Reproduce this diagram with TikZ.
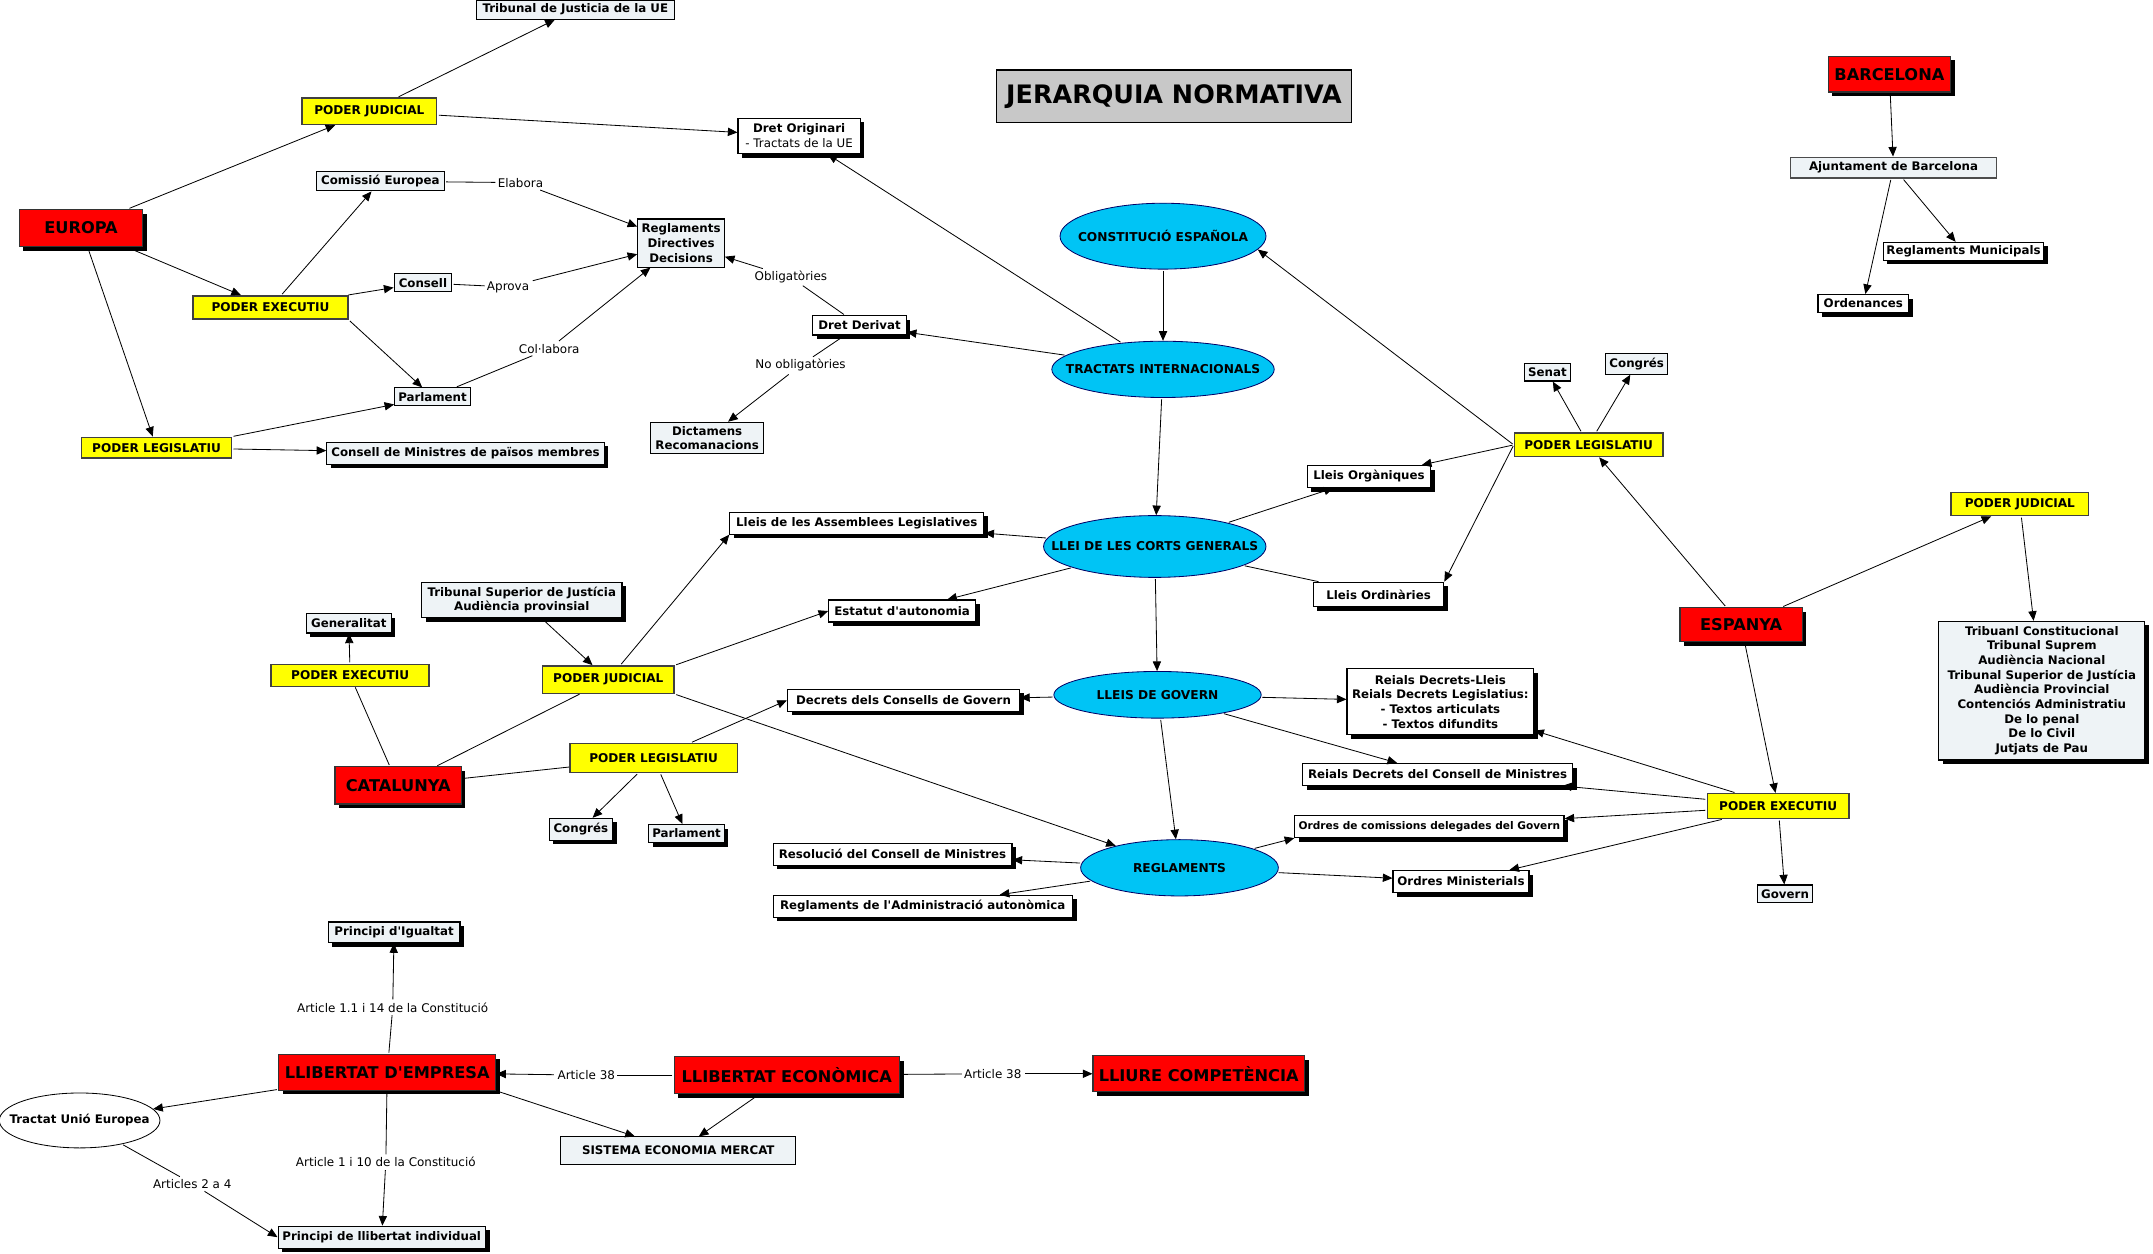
\documentclass[tikz,border=0pt]{standalone}
\usepackage{fontspec}
\setmainfont{DejaVu Sans}
\newfontfamily\plainfont{DejaVu Sans}
\newcommand{\apos}{{\plainfont '}}
\usetikzlibrary{shapes.geometric,arrows.meta,shadows}
\definecolor{lightc}{HTML}{EEF3F6}
\definecolor{cyanc}{HTML}{00C4F5}
\definecolor{yelc}{HTML}{FFFF00}
\definecolor{redc}{HTML}{FF0000}
\definecolor{grayc}{HTML}{C8C8C8}
\tikzset{
  sz/.style 2 args={minimum width=#1pt, minimum height=#2pt},
  base/.style={draw=black, line width=0.8pt, font=\bfseries\fontsize{8.6}{10.7}\selectfont, inner sep=1pt, align=center},
  lt/.style={base, fill=lightc},
  wt/.style={base, fill=white},
  shd/.style={drop shadow={opacity=1, fill=black, shadow xshift=3pt, shadow yshift=-3pt}},
  yel/.style={base, fill=yelc, draw=black!75, line width=1.1pt, font=\bfseries\fontsize{8.8}{10}\selectfont},
  redbox/.style={base, fill=redc, draw=black!80, font=\bfseries\fontsize{11.8}{13}\selectfont},
  titlebox/.style={base, fill=grayc, font=\bfseries\fontsize{18.5}{20}\selectfont},
  ell/.style={ellipse, draw=black!60!blue, fill=cyanc, line width=0.6pt, inner sep=0pt},
  elltxt/.style={font=\bfseries\fontsize{8.9}{10}\selectfont, inner sep=0pt},
  lab/.style={fill=white, font=\fontsize{8.7}{9}\selectfont, inner sep=1.5pt},
  arr/.style={-{Triangle[length=7pt,width=6pt]}, line width=0.6pt, shorten <=1pt},
  ln/.style={line width=0.6pt, shorten <=1pt}
}
\begin{document}
\begin{tikzpicture}[x=1pt,y=-1pt]
\useasboundingbox (0,0) rectangle (1568,913);

% Title
\node[titlebox, sz={258}{38}] (title) at (855,70) {JERARQUIA NORMATIVA};

% Europe
\node[lt, sz={144}{14}] (tjue) at (419,7) {Tribunal de Justicia de la UE};
\node[yel, sz={98}{19}] (pjeu) at (269,81) {PODER JUDICIAL};
\node[wt, shd, sz={89}{26}] (dorig) at (582,99) {Dret Originari\\{\mdseries - Tractats de la UE}};
\node[lt, sz={93}{14}] (comis) at (277,132) {Comissió Europea};
\node[redbox, shd, sz={90}{27}] (europa) at (59,166) {EUROPA};
\node[lt, sz={63}{35}] (regl) at (496,177) {Reglaments\\Directives\\Decisions};
\node[yel, sz={113}{17}] (peeu) at (197,224) {PODER EXECUTIU};
\node[lt, sz={42}{13}] (consell) at (308,206) {Consell};
\node[wt, shd, sz={68}{14}] (dderiv) at (626,237) {Dret Derivat};
\node[lt, sz={55}{13}] (parleu) at (315,289) {Parlament};
\node[yel, sz={109}{15}] (pleu) at (114,326) {PODER LEGISLATIU};
\node[lt, shd, sz={202}{16}] (cmin) at (339,330) {Consell de Ministres de països membres};
\node[lt, sz={82}{23}] (dict) at (515,319) {Dictamens\\Recomanacions};

\node[lab] (lelab) at (379,133) {Elabora};
\node[lab] (laprov) at (370,209) {Aprova};
\node[lab] (lcolab) at (400,254) {Col·labora};
\node[lab] (lobl) at (576,202) {Obligatòries};
\node[lab] (lnobl) at (583,266) {No obligatòries};

% Centre
\node[ell, sz={150}{48}, label={[elltxt]center:CONSTITUCIÓ ESPAÑOLA}] (ce) at (847,172) {};
\node[ell, sz={162}{41}, label={[elltxt]center:TRACTATS INTERNACIONALS}] (ti) at (847,269) {};
\node[ell, sz={162}{45}, label={[elltxt]center:LLEI DE LES CORTS GENERALS}] (llc) at (841,398) {};
\node[ell, sz={151}{34}, label={[elltxt]center:LLEIS DE GOVERN}] (llg) at (843,506) {};
\node[ell, sz={144}{41}, label={[elltxt]center:REGLAMENTS}] (regs) at (859,632) {};

\node[wt, shd, sz={90}{16}] (lorg) at (997,347) {Lleis Orgàniques};
\node[wt, shd, sz={95}{18}] (lord) at (1004,433) {Lleis Ordinàries};
\node[wt, shd, sz={185}{16}] (lass) at (624,381) {Lleis de les Assemblees Legislatives};
\node[wt, shd, sz={107}{16}] (estat) at (657,445) {Estatut d\apos autonomia};
\node[wt, shd, sz={169}{16}] (decr) at (658,510) {Decrets dels Consells de Govern};
\node[wt, shd, sz={136}{48}] (rdl) at (1049,511) {Reials Decrets-Lleis\\Reials Decrets Legislatius:\\- Textos articulats\\- Textos difundits};
\node[wt, shd, sz={197}{16}] (rdcm) at (1047,564) {Reials Decrets del Consell de Ministres};
\node[wt, shd, sz={196}{16}, font=\bfseries\fontsize{7.7}{10}\selectfont] (ocd) at (1041,602) {Ordres de comissions delegades del Govern};
\node[wt, shd, sz={99}{16}] (omin) at (1064,642) {Ordres Ministerials};
\node[wt, shd, sz={174}{16}] (resol) at (650,622) {Resolució del Consell de Ministres};
\node[wt, shd, sz={218}{16}] (radm) at (672,660) {Reglaments de l\apos Administració autonòmica};

% Catalunya
\node[lt, shd, sz={146}{26}] (tsj) at (380,437) {Tribunal Superior de Justícia\\Audiència provinsial};
\node[lt, shd, sz={62}{14}] (gen) at (254,454) {Generalitat};
\node[yel, sz={115}{16}] (pecat) at (255,492) {PODER EXECUTIU};
\node[yel, sz={96}{20}] (pjcat) at (443,495) {PODER JUDICIAL};
\node[redbox, shd, sz={92}{27}] (cat) at (290,572) {CATALUNYA};
\node[yel, sz={122}{21}] (plcat) at (476,552) {PODER LEGISLATIU};
\node[lt, shd, sz={46}{16}] (congcat) at (423,604) {Congrés};
\node[lt, shd, sz={55}{13}] (parlcat) at (500,607) {Parlament};

% Espanya
\node[redbox, shd, sz={89}{25}] (esp) at (1268,455) {ESPANYA};
\node[yel, sz={108}{17}] (plesp) at (1157,324) {PODER LEGISLATIU};
\node[lt, sz={34}{13}] (senat) at (1127,271) {Senat};
\node[lt, sz={45}{15}] (congesp) at (1192,265) {Congrés};
\node[yel, sz={100}{17}] (pjesp) at (1471,367) {PODER JUDICIAL};
\node[lt, shd, sz={150}{101}] (trib) at (1487,503) {Tribuanl Constitucional\\Tribunal Suprem\\Audiència Nacional\\Tribunal Superior de Justícia\\Audiència Provincial\\Contenciós Administratiu\\De lo penal\\De lo Civil\\Jutjats de Pau};
\node[yel, sz={103}{18}] (peesp) at (1295,587) {PODER EXECUTIU};
\node[lt, sz={40}{13}] (govern) at (1300,651) {Govern};

% Barcelona
\node[redbox, shd, sz={89}{26}] (bcn) at (1376,54) {BARCELONA};
\node[lt, draw=black!70, line width=1pt, sz={150}{15}] (ajunt) at (1379,122) {Ajuntament de Barcelona};
\node[wt, shd, sz={117}{13}] (rmun) at (1430,183) {Reglaments Municipals};
\node[wt, shd, sz={66}{13}] (orden) at (1357,221) {Ordenances};

% Bottom
\node[lt, shd, sz={96}{15}] (pigual) at (287,679) {Principi d\apos Igualtat};
\node[redbox, shd, sz={158}{26}] (lemp) at (282,781) {LLIBERTAT D\apos EMPRESA};
\node[redbox, shd, sz={164}{27}] (lecon) at (573,783) {LLIBERTAT ECONÒMICA};
\node[redbox, shd, sz={154}{26}] (lcomp) at (873,782) {LLIURE COMPETÈNCIA};
\node[ellipse, draw=black, fill=white, line width=0.6pt, inner sep=0pt, sz={117}{40}, label={[elltxt, font=\bfseries\fontsize{8.6}{10}\selectfont]center:Tractat Unió Europea}] (tue) at (58,816) {};
\node[lt, sz={171}{20}] (sem) at (494,838) {SISTEMA ECONOMIA MERCAT};
\node[lt, shd, sz={151}{16}] (plib) at (278,901) {Principi de llibertat individual};

\node[lab] (la114) at (286,734) {Article 1.1 i 14 de la Constitució};
\node[lab] (la38a) at (427,783) {Article 38};
\node[lab] (la38b) at (723,782) {Article 38};
\node[lab] (la110) at (281,846) {Article 1 i 10 de la Constitució};
\node[lab] (la24) at (140,862) {Articles 2 a 4};

% ---- Connectors: Europe
\draw[arr] (europa) -- (pjeu);
\draw[arr] (europa) -- (peeu);
\draw[arr] (europa) -- (pleu);
\draw[arr] (pjeu) -- (tjue);
\draw[arr] (pjeu) -- (dorig);
\draw[arr] (peeu) -- (comis);
\draw[arr] (peeu) -- (consell);
\draw[arr] (peeu.south east) -- (parleu);
\draw[arr] (pleu.north east) -- (parleu);
\draw[arr] (pleu) -- (cmin);
\draw[ln] (comis) -- (lelab);
\draw[arr] (lelab) -- (regl);
\draw[ln] (consell) -- (laprov);
\draw[arr] (laprov) -- (regl);
\draw[ln] (parleu) -- (lcolab);
\draw[arr] (lcolab) -- (regl);
\draw[ln] (dderiv) -- (lobl);
\draw[arr] (lobl) -- (regl);
\draw[ln] (dderiv) -- (lnobl);
\draw[arr] (lnobl) -- (dict);
\draw[arr] (ti) -- (dderiv);
\draw[arr] (ti) -- (dorig);

% ---- Centre
\draw[arr] (ce) -- (ti);
\draw[arr] (ti) -- (llc);
\draw[arr] (llc) -- (llg);
\draw[arr] (llg) -- (regs);
\draw[arr] (plesp.west) -- (ce.-8);
\draw[arr] (llc) -- (lorg);
\draw[ln] (llc) -- (lord);
\draw[arr] (llc) -- (lass);
\draw[arr] (llc) -- (estat);
\draw[arr] (plesp.west) -- (lorg);
\draw[arr] (plesp.west) -- (lord.north east);
\draw[arr] (plesp) -- (senat);
\draw[arr] (plesp) -- (congesp);
\draw[arr] (esp) -- (plesp);
\draw[arr] (esp) -- (pjesp);
\draw[arr] (esp) -- (peesp);
\draw[arr] (pjesp) -- (trib);
\draw[arr] (peesp) -- (govern);
\draw[arr] (peesp) -- (rdl);
\draw[arr] (peesp) -- (rdcm);
\draw[arr] (peesp) -- (ocd);
\draw[arr] (peesp) -- (omin);
\draw[arr] (llg) -- (decr);
\draw[arr] (llg) -- (rdl);
\draw[arr] (llg) -- (rdcm);
\draw[arr] (regs) -- (resol);
\draw[arr] (regs) -- (radm);
\draw[arr] (regs) -- (ocd.south west);
\draw[arr] (regs) -- (omin);

% ---- Catalunya
\draw[ln] (cat) -- (pecat);
\draw[arr] (pecat) -- (gen);
\draw[ln] (cat) -- (pjcat);
\draw[ln] (cat) -- (plcat);
\draw[arr] (tsj) -- (pjcat);
\draw[arr] (pjcat) -- (lass.south west);
\draw[arr] (pjcat.north east) -- (estat.west);
\draw[arr] (pjcat.south east) -- (regs);
\draw[arr] ([xshift=27pt]plcat.north) -- (decr.west);
\draw[arr] (plcat) -- (congcat);
\draw[arr] (plcat) -- (parlcat);

% ---- Barcelona
\draw[arr] (bcn) -- (ajunt);
\draw[arr] (ajunt) -- (rmun);
\draw[arr] (ajunt) -- (orden);

% ---- Bottom
\draw[ln] (lemp) -- (la114);
\draw[arr] (la114) -- (pigual);
\draw[ln] (lecon) -- (la38a);
\draw[arr] (la38a) -- (lemp);
\draw[ln] (lecon) -- (la38b);
\draw[arr] (la38b) -- (lcomp);
\draw[arr] (lemp) -- (tue);
\draw[arr] (lemp.south east) -- (sem);
\draw[arr] (lecon) -- (sem);
\draw[ln] (lemp) -- (la110);
\draw[arr] (la110) -- (plib);
\draw[ln] (tue) -- (la24);
\draw[arr] (la24) -- (plib.west);
\end{tikzpicture}
\end{document}
